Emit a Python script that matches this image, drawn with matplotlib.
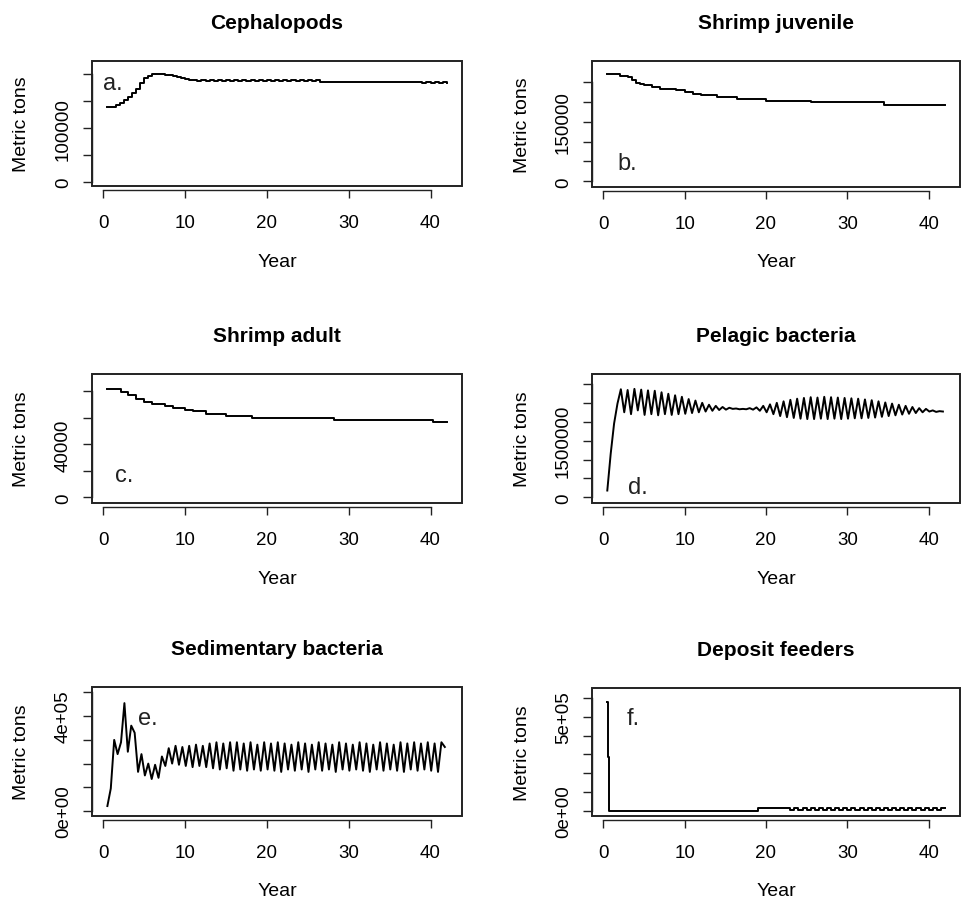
import numpy as np
import matplotlib
matplotlib.use("Agg")
import matplotlib.pyplot as plt
from matplotlib.patches import Rectangle

plt.rcParams['font.family'] = ['Liberation Sans', 'DejaVu Sans']

W, H = 963, 903

# ---- data (metric tons) ----
# Cephalopods, half-year steps 0.5 .. 42
ceph_year = np.arange(1, 85) * 0.5
ceph_tons = [139000, 140000, 143000, 147000, 152000, 158000, 165000, 172000, 184000, 193000,
             197000, 200000, 201500, 201000, 199500, 198000, 196500, 194500, 193000, 191000,
             190000,
             189500, 187500, 189500, 187500, 189500, 187500, 189500, 187500, 189500, 187500,
             189500, 187500, 189500, 187500, 189500, 187500, 189500, 187500, 189500, 187500,
             189500, 187500, 189500, 187500, 189500, 187500, 189500, 187500, 189500, 187500,
             189500,
             186500, 186500, 186500, 186500, 186500, 186500, 186500, 186500, 186500, 186500,
             186500, 186500, 186500, 186500, 186500, 186500, 186500, 186500, 186500, 186500,
             186500, 186500, 186500, 186500,
             185500, 183500, 185500, 183500, 185500, 183500, 185500, 184500]

# Shrimp juvenile, step points
shj_year = [0.5, 2, 3, 3.5, 4, 4.5, 5, 6, 7, 9, 10, 11, 12, 14, 16.5, 20, 25.5, 34.5, 42]
shj_tons = [270000, 266000, 262000, 255000, 248000, 244000, 241000, 237000, 232000, 229000,
            225000, 220000, 216000, 211000, 206000, 202000, 199000, 193000, 193000]

# Shrimp adult, step points
sha_year = [0.5, 2.2, 3, 4, 5, 6, 7.5, 8.5, 10, 11, 12.5, 15, 18.2, 28.2, 40.3, 42]
sha_tons = [81800, 79500, 77000, 74500, 72000, 70500, 69000, 67500, 66000, 64800,
            63000, 61200, 59600, 58400, 56600, 56600]

# Pelagic and sedimentary bacteria, 5-month steps from 0.5
bact_year = 0.5 + np.arange(100) * 5 / 12
pel_tons = [180000, 1150000, 1950000, 2480000, 2860000, 2250000, 2840000, 2200000, 2870000, 2300000,
            2850000, 2180000, 2830000, 2200000, 2820000, 2170000, 2780000, 2200000, 2740000, 2180000,
            2700000, 2200000, 2660000, 2210000, 2600000, 2230000, 2560000, 2250000, 2500000, 2270000,
            2450000, 2290000, 2420000, 2310000, 2390000, 2320000, 2370000, 2340000, 2350000, 2330000,
            2340000, 2330000, 2360000, 2320000, 2380000, 2290000, 2420000, 2250000, 2460000, 2200000,
            2500000, 2150000, 2540000, 2120000, 2580000, 2100000, 2610000, 2080000, 2630000, 2070000,
            2650000, 2070000, 2640000, 2080000, 2660000, 2070000, 2650000, 2080000, 2640000, 2070000,
            2630000, 2080000, 2620000, 2090000, 2610000, 2090000, 2590000, 2100000, 2570000, 2110000,
            2540000, 2130000, 2510000, 2150000, 2480000, 2170000, 2450000, 2190000, 2420000, 2210000,
            2390000, 2230000, 2360000, 2250000, 2340000, 2270000, 2300000, 2260000, 2280000, 2270000]
sed_tons = [21000, 95000, 300000, 240000, 290000, 455000, 250000, 360000, 330000, 165000,
            240000, 150000, 200000, 135000, 195000, 140000, 230000, 190000, 265000, 200000,
            275000, 195000, 270000, 190000, 275000, 185000, 280000, 190000, 275000, 185000,
            285000, 180000, 290000, 175000, 285000, 180000, 290000, 170000, 290000, 175000,
            285000, 170000, 290000, 175000, 280000, 170000, 290000, 175000, 285000, 170000,
            290000, 165000, 285000, 175000, 280000, 170000, 290000, 175000, 285000, 165000,
            280000, 175000, 290000, 170000, 285000, 175000, 280000, 165000, 290000, 175000,
            285000, 170000, 280000, 175000, 290000, 170000, 285000, 165000, 280000, 175000,
            290000, 170000, 285000, 175000, 280000, 170000, 290000, 165000, 285000, 175000,
            290000, 170000, 285000, 175000, 290000, 170000, 285000, 165000, 290000, 270000]

# Deposit feeders, step points
dep_year = [0.5, 0.6, 0.75, 19.0, 23.0, 23.5, 24.0, 24.5, 25.0, 25.5, 26.0, 26.5, 27.0, 27.5,
            28.0, 28.5, 29.0, 29.5, 30.0, 30.5, 31.0, 31.5, 32.0, 32.5, 33.0, 33.5, 34.0,
            34.5, 35.0, 35.5, 36.0, 36.5, 37.0, 37.5, 38.0, 38.5, 39.0, 39.5, 40.0, 40.5,
            41.0, 41.5, 42.0]
dep_tons = [576000, 284000, 1500, 14000, 4000, 14000, 4000, 14000, 4000, 14000, 4000, 14000,
            4000, 14000, 4000, 14000, 4000, 14000, 4000, 14000, 4000, 14000, 4000, 14000,
            4000, 14000, 4000, 14000, 4000, 14000, 4000, 14000, 4000, 14000, 4000, 14000,
            4000, 14000, 4000, 14000, 4000, 14000, 14000]

x_ticks = [0, 10, 20, 30, 40]

fig = plt.figure(figsize=(W / 100, H / 100), dpi=100)
fig.patch.set_facecolor('white')


def panel(box, title, xs, ys, step, yticks, ylabels, ylim, letter, letter_pos):
    x0, y0, x1, y1 = box
    ax = fig.add_axes([x0 / W, 1 - y1 / H, (x1 - x0) / W, (y1 - y0) / H])
    if step:
        ax.plot(xs, ys, color='black', lw=1.4, drawstyle='steps-post')
    else:
        ax.plot(xs, ys, color='black', lw=1.4)
    ax.set_xlim(-1.38, 43.85)
    ax.set_ylim(*ylim)

    # R style axes: box plus tick axes
    for s in ax.spines.values():
        s.set_visible(False)
    ax.add_patch(Rectangle((0, 0), 1, 1, transform=ax.transAxes, fill=False,
                           lw=1.4, edgecolor='#222222', clip_on=False))
    ax.spines['bottom'].set_visible(True)
    ax.spines['bottom'].set_position(('outward', 3))
    ax.spines['bottom'].set_bounds(0, 40)
    ax.spines['left'].set_visible(True)
    ax.spines['left'].set_bounds(yticks[0], yticks[-1])
    for s in ('bottom', 'left'):
        ax.spines[s].set_linewidth(1.0)
        ax.spines[s].set_color('#222222')

    ax.set_xticks(x_ticks)
    ax.set_xticklabels([str(t) for t in x_ticks])
    ax.set_yticks(yticks)
    ax.set_yticklabels(ylabels, rotation=90, va='center')
    ax.tick_params(axis='x', length=6, width=1.0, pad=11, labelsize=13.5, color='#222222')
    ax.tick_params(axis='y', length=6.5, width=1.0, pad=8, labelsize=13.5, color='#222222')

    ax.set_title(title, fontsize=15, fontweight='bold', pad=24)
    ax.set_xlabel('Year', fontsize=14)
    ax.xaxis.set_label_coords(0.5, -75 / (y1 - y0))
    ax.xaxis.label.set_va('center')
    ax.set_ylabel('Metric tons', fontsize=14)
    ax.yaxis.set_label_coords(-70 / (x1 - x0), 0.5)
    ax.yaxis.label.set_va('center')

    ax.text(letter_pos[0], letter_pos[1], letter, fontsize=17, color='#222222',
            ha='left', va='baseline')
    return ax


panel((92, 62, 462, 187), 'Cephalopods', ceph_year, ceph_tons, True,
      [0, 50000, 100000, 150000, 200000], ['0', '', '100000', '', ''],
      (-7400, 224800), 'a.', (0.0, 172300))
panel((592, 62, 960, 188), 'Shrimp juvenile', shj_year, shj_tons, True,
      [0, 50000, 100000, 150000, 200000, 250000], ['0', '', '', '150000', '', ''],
      (-14200, 302500), 'b.', (1.7, 31750))
panel((92, 375, 462, 504), 'Shrimp adult', sha_year, sha_tons, True,
      [0, 20000, 40000, 60000, 80000], ['0', '', '40000', '', ''],
      (-4300, 93100), 'c.', (1.45, 12300))
panel((592, 375, 960, 504), 'Pelagic bacteria', bact_year, pel_tons, False,
      [0, 500000, 1000000, 1500000, 2000000, 2500000, 3000000],
      ['0', '', '', '1500000', '', '', ''],
      (-150000, 3263000), 'd.', (3.0, 114000))
panel((92, 688, 462, 817), 'Sedimentary bacteria', bact_year, sed_tons, False,
      [0, 100000, 200000, 300000, 400000, 500000], ['0e+00', '', '', '', '4e+05', ''],
      (-21000, 523000), 'e.', (4.25, 367000))
panel((592, 689, 960, 817), 'Deposit feeders', dep_year, dep_tons, True,
      [0, 100000, 200000, 300000, 400000, 500000, 600000],
      ['0e+00', '', '', '', '', '5e+05', ''],
      (-26600, 652000), 'f.', (2.9, 461000))

fig.savefig('out.png', dpi=100, facecolor='white')
